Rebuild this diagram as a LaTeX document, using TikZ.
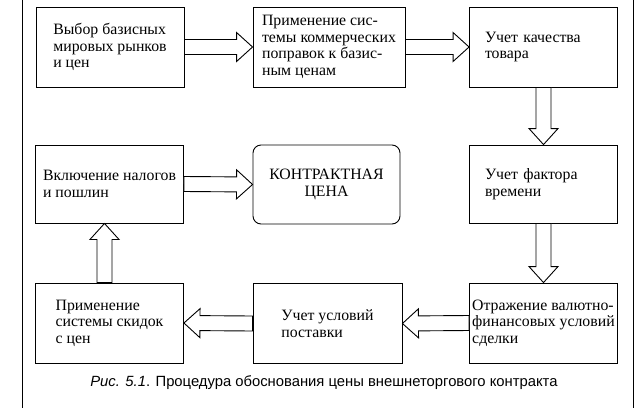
\documentclass[tikz,border=0pt]{standalone}
\usepackage{fontspec}
\setmainfont{Liberation Serif}
\newfontfamily\capfont{Liberation Sans}
\usetikzlibrary{calc}
\begin{document}
\begin{tikzpicture}
	[	x=1pt,y=-1pt,
	box/.style={rectangle,draw=black,line width=.9pt,fill=white,minimum width=148pt,minimum height=80pt,align=left,font=\rmfamily\fontsize{15.8}{16.5}\selectfont},
	fat/.style={draw=black,line width=.9pt,fill=white,to path={
		($(\tikztostart)!7.5pt!90:(\tikztotarget)$) --
		($(\tikztotarget)!16pt!(\tikztostart)!7.5pt!90:(\tikztotarget)$) --
		($(\tikztotarget)!16pt!(\tikztostart)!14.5pt!90:(\tikztotarget)$) --
		(\tikztotarget) --
		($(\tikztotarget)!16pt!(\tikztostart)!14.5pt!-90:(\tikztotarget)$) --
		($(\tikztotarget)!16pt!(\tikztostart)!7.5pt!-90:(\tikztotarget)$) --
		($(\tikztostart)!7.5pt!-90:(\tikztotarget)$) -- cycle}},
	frame/.style={draw=black,line width=.9pt}
	]
	\useasboundingbox (0,0) rectangle (643,408);
	\draw[frame] (22,0) -- (22,408);
	\draw[frame] (633,0) -- (633,408);

	\node[box] (select) at (110,47){Выбор базисных\\мировых рынков\\и цен};
	\node[box,minimum width=152pt] (corr) at (329,47){Применение сис-\\темы коммерческих\\поправок к базис-\\ным ценам};
	\node[box,inner xsep=15pt,text width=117pt] (quality) at (543.5,47){Учет качества\\товара};

	\node[box,minimum height=78pt] (taxes) at (109.5,184){Включение налогов\\и пошлин};
	\node[box,minimum width=147pt,minimum height=79pt,rounded corners=8pt,align=center] (price) at (326.5,184.5){КОНТРАКТНАЯ\\ЦЕНА};
	\node[box,minimum height=78pt,inner xsep=15pt,text width=117pt] (time) at (543.5,184){Учет фактора\\времени};

	\node[box] (disc) at (109.5,323){Применение\\системы скидок\\с цен};
	\node[box,minimum width=149pt] (deliv) at (327.5,323.5){Учет условий\\поставки};
	\node[box,inner xsep=1.5pt] (fin) at (543.5,323){Отражение валютно-\\финансовых условий\\сделки};

	\draw[fat] (select.east) to (corr.west);
	\draw[fat] (corr.east) to (quality.west);
	\draw[fat] (quality.south) to (time.north);
	\draw[fat] (time.south) to (fin.north);
	\draw[fat] (fin.west) to (deliv.east);
	\draw[fat] (deliv.west) to (disc.east);
	\draw[fat] ([xshift=-5pt]disc.north) to ([xshift=-5pt]taxes.south);
	\draw[fat] (taxes.east) to (price.west);

	\node[font=\capfont\fontsize{14.8}{16}\selectfont] (cap) at (324,383){{\itshape Рис. 5.1}. Процедура обоснования цены внешнеторгового контракта};
\end{tikzpicture}
\end{document}
